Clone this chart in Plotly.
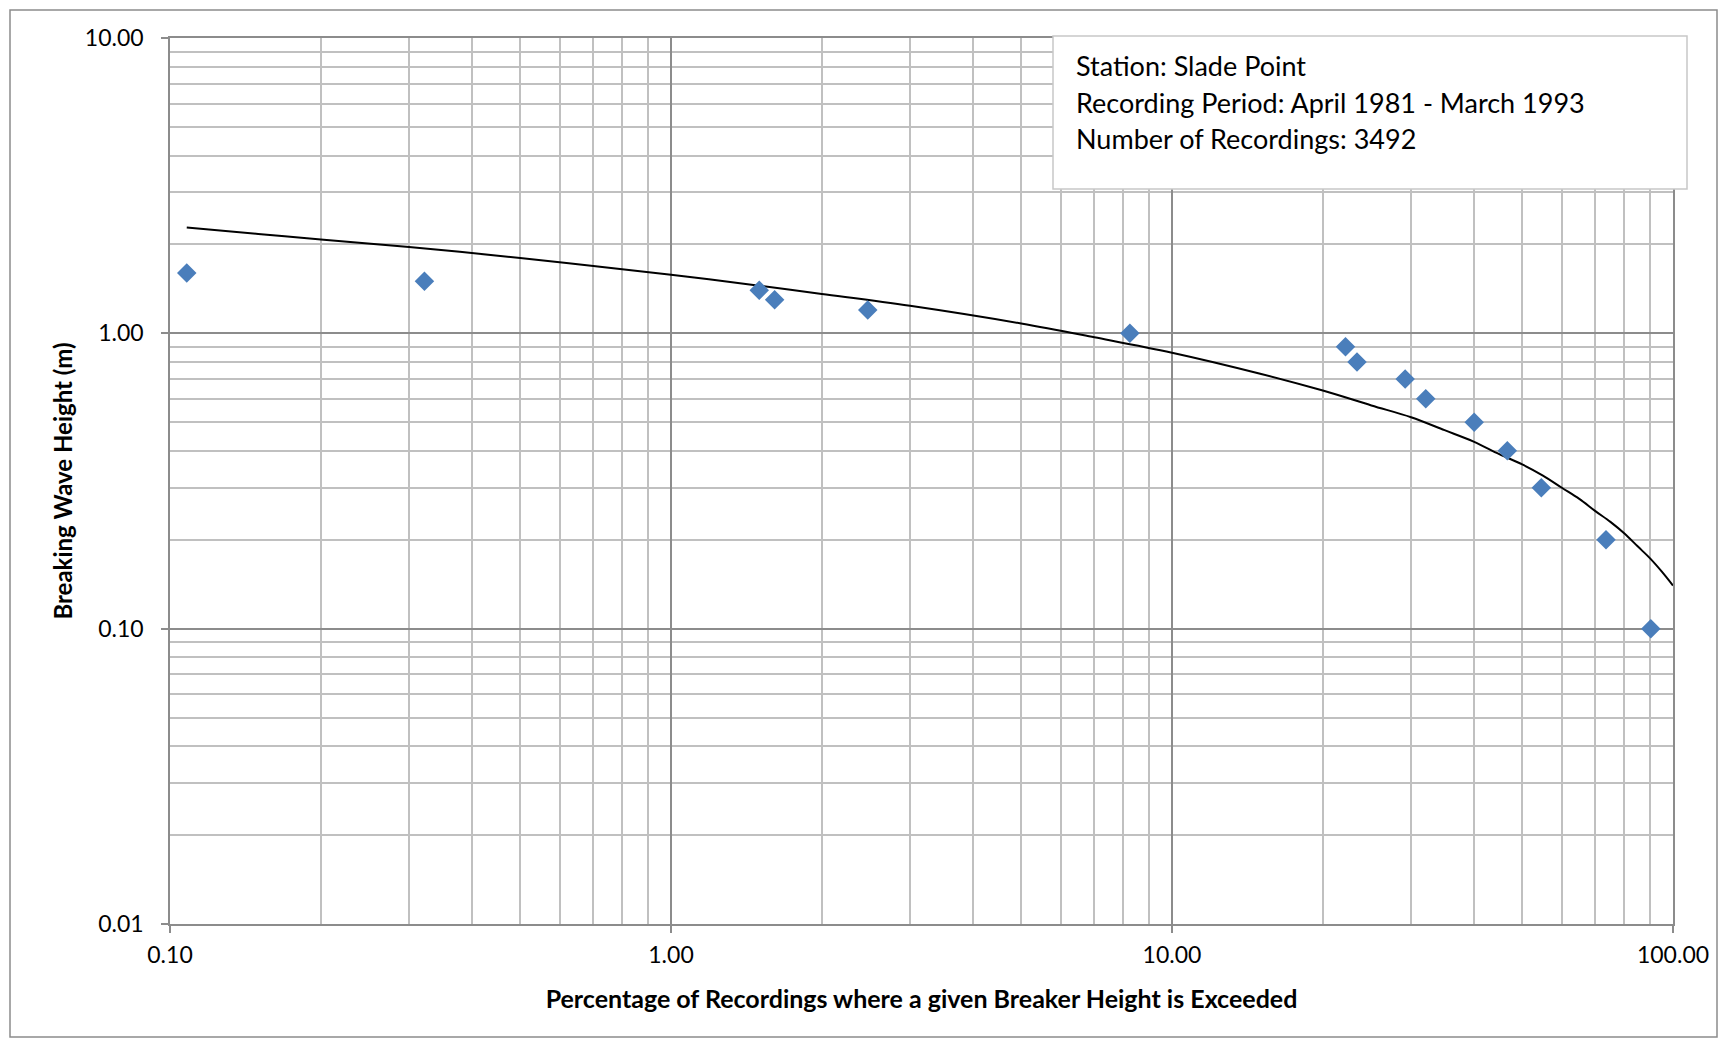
import plotly.graph_objects as go

# Observed data (percentage exceeded, breaking wave height)
pct_exceeded = [0.108, 0.322, 1.50, 1.61, 2.47, 8.24, 22.2, 23.4, 29.2, 32.1, 40.1, 46.7, 54.6, 73.5, 90.3]
wave_height = [1.6, 1.5, 1.4, 1.3, 1.2, 1.0, 0.9, 0.8, 0.7, 0.6, 0.5, 0.4, 0.3, 0.2, 0.1]

# Trend line
trend_x = [0.108, 0.15, 0.2, 0.3, 0.5, 0.7, 1, 1.5, 2, 3, 5, 7, 10, 15, 20, 25, 30, 35, 40, 45, 50,
           55, 60, 65, 70, 75, 80, 85, 90, 95, 100]
trend_y = [2.28, 2.17, 2.08, 1.96, 1.80, 1.69, 1.58, 1.45, 1.36, 1.24, 1.08, 0.97, 0.86, 0.73, 0.64,
           0.57, 0.52, 0.47, 0.43, 0.39, 0.36, 0.33, 0.30, 0.275, 0.25, 0.23, 0.21, 0.19, 0.173, 0.156, 0.14]

x_tickvals = [0.1, 1, 10, 100]
x_ticktext = ["0.10", "1.00", "10.00", "100.00"]
y_tickvals = [0.01, 0.1, 1, 10]
y_ticktext = ["0.01", "0.10", "1.00", "10.00"]

info_lines = ["Station: Slade Point",
              "Recording Period: April 1981 - March 1993",
              "Number of Recordings: 3492"]

FONT = "Lato, 'Open Sans', sans-serif"
MAJOR = "#8C8C8C"
MINOR = "#C0C0C0"

W, H = 1720, 1040
L, R, T, B = 170, 47, 38, 116
pw, ph = W - L - R, H - T - B

def px(x):
    return (x - L) / pw

def py(y):
    return (H - B - y) / ph

fig = go.Figure()
fig.add_trace(go.Scatter(x=trend_x, y=trend_y, mode="lines", line_shape="spline",
                         line=dict(color="black", width=2), showlegend=False,
                         hoverinfo="skip"))
fig.add_trace(go.Scatter(x=pct_exceeded, y=wave_height, mode="markers",
                         marker=dict(symbol="diamond", size=15, color="#4A7EBB",
                                     line=dict(width=0)),
                         showlegend=False))

axis_common = dict(
    type="log", showline=True, linecolor=MAJOR, linewidth=1.5, mirror=True,
    showgrid=True, gridcolor=MAJOR, gridwidth=1.5,
    ticks="outside", ticklen=7, tickcolor=MAJOR, tickwidth=1.5,
    tickfont=dict(family=FONT, size=23, color="black"),
    tickmode="array", zeroline=False,
    minor=dict(dtick="D1", showgrid=True, gridcolor=MINOR, gridwidth=1.5, ticks=""),
)

fig.update_layout(
    width=W, height=H,
    margin=dict(l=L, r=R, t=T, b=B),
    paper_bgcolor="white", plot_bgcolor="white",
    font=dict(family=FONT, color="black"),
    xaxis=dict(axis_common, range=[-1, 2], tickvals=x_tickvals, ticktext=x_ticktext,
               ticklabelstandoff=3,
               title=dict(text="<b>Percentage of Recordings where a given Breaker Height is Exceeded</b>",
                          font=dict(family=FONT, size=25, color="black"), standoff=23)),
    yaxis=dict(axis_common, range=[-2, 1], tickvals=y_tickvals, ticktext=y_ticktext,
               ticklabelstandoff=13,
               title=dict(text="<b>Breaking Wave Height (m)</b>",
                          font=dict(family=FONT, size=24, color="black"), standoff=5)),
)

# outer chart border
fig.add_shape(type="rect", xref="paper", yref="paper",
              x0=px(10), x1=px(1717), y0=py(1037), y1=py(10),
              line=dict(color="#8C8C8C", width=1.5), fillcolor="rgba(0,0,0,0)", layer="below")

# info box
fig.add_shape(type="rect", xref="paper", yref="paper",
              x0=px(1053), x1=px(1687), y0=py(189), y1=py(36),
              line=dict(color="#C8C8C8", width=1.5), fillcolor="white", layer="above")

for i, line in enumerate(info_lines):
    fig.add_annotation(xref="paper", yref="paper", x=px(1074), y=py(66 + 36 * i),
                       xanchor="left", yanchor="middle", showarrow=False,
                       text=line, font=dict(family=FONT, size=27, color="black"))

fig.write_html("out.html")
